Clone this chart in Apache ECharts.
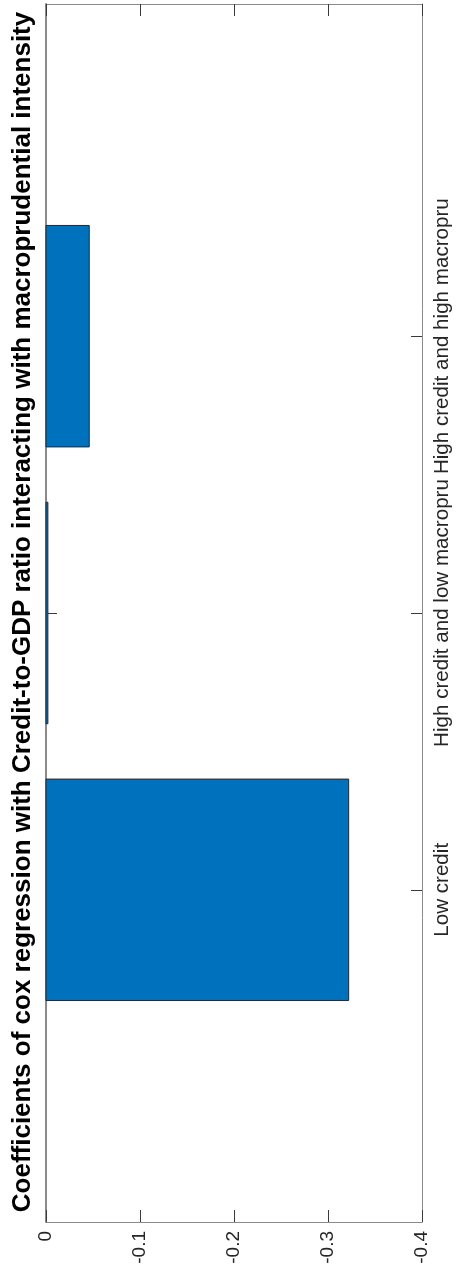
<!DOCTYPE html>
<html>
<head>
<meta charset="utf-8">
<script src="https://cdn.jsdelivr.net/npm/echarts@6/dist/echarts.min.js"></script>
<style>
  html, body { margin: 0; padding: 0; background: #fff; }
  #chart { width: 462px; height: 1281px; }
</style>
</head>
<body>
<div id="chart"></div>
<script>
// Regression groups and their coefficients
const categories = ['Low credit', 'High credit and low macropru', 'High credit and high macropru'];
const coefficients = [-0.322, -0.002, -0.046];
const titleText = 'Coefficients of cox regression with Credit-to-GDP ratio interacting with macroprudential intensity';

// Category positions (1..n) on the vertical axis
const catPositions = categories.map((c, i) => i + 1);
const barData = coefficients.map((v, i) => [v, catPositions[i]]);

const FONT = '"Liberation Sans", Arial, sans-serif';
const frameColor = '#8a8a8a';
const tickColor = '#3a3a3a';
const textColor = '#262626';

const chart = echarts.init(document.getElementById('chart'));

const valueAxisBase = {
  type: 'value',
  min: -0.4,
  max: 0,
  interval: 0.1,
  inverse: true,
  splitLine: { show: false },
  axisLine: { show: true, onZero: false, lineStyle: { color: frameColor, width: 1 } },
  axisTick: { show: true, inside: true, length: 12, lineStyle: { color: tickColor, width: 1 } }
};

const catAxisBase = {
  type: 'value',
  min: -0.2,
  max: 4.2,
  splitLine: { show: false },
  axisLine: { show: true, onZero: false, lineStyle: { color: frameColor, width: 1 } },
  axisTick: { show: true, inside: true, length: 11, customValues: catPositions, lineStyle: { color: tickColor, width: 1 } }
};

chart.setOption({
  animation: false,
  backgroundColor: '#ffffff',
  grid: { left: 46, top: 4, width: 376, height: 1218 },
  xAxis: [
    Object.assign({}, valueAxisBase, {
      position: 'bottom',
      axisLabel: {
        show: true,
        rotate: 90,
        margin: 9,
        fontSize: 19,
        fontFamily: FONT,
        color: textColor,
        formatter: v => String(Math.round(v * 10) / 10)
      }
    }),
    Object.assign({}, valueAxisBase, {
      position: 'top',
      axisLabel: { show: false }
    })
  ],
  yAxis: [
    Object.assign({}, catAxisBase, {
      position: 'right',
      axisLabel: {
        show: true,
        rotate: 90,
        margin: 10,
        fontSize: 20.6,
        fontFamily: FONT,
        color: textColor,
        hideOverlap: false,
        showMinLabel: true,
        showMaxLabel: true,
        customValues: catPositions,
        formatter: v => categories[Math.round(v) - 1] || ''
      }
    }),
    Object.assign({}, catAxisBase, {
      position: 'left',
      axisLine: { show: true, onZero: false, lineStyle: { color: frameColor, width: 2 } },
      axisLabel: { show: false }
    })
  ],
  series: [{
    type: 'custom',
    xAxisIndex: 0,
    yAxisIndex: 0,
    encode: { x: 0, y: 1 },
    data: barData,
    renderItem: function (params, api) {
      const v = api.value(0);
      const c = api.value(1);
      const p0 = api.coord([0, c - 0.4]);
      const p1 = api.coord([v, c + 0.4]);
      return {
        type: 'rect',
        shape: {
          x: Math.min(p0[0], p1[0]),
          y: Math.min(p0[1], p1[1]),
          width: Math.abs(p1[0] - p0[0]),
          height: Math.abs(p1[1] - p0[1])
        },
        style: { fill: '#0072BD', stroke: '#1f2a33', lineWidth: 1 }
      };
    }
  }],
  graphic: [{
    type: 'text',
    x: 23,
    y: 612,
    rotation: Math.PI / 2,
    style: {
      text: titleText,
      fontFamily: FONT,
      fontWeight: 'bold',
      fontSize: 26,
      fill: '#000000',
      align: 'center',
      verticalAlign: 'middle'
    }
  }]
});
</script>
</body>
</html>
